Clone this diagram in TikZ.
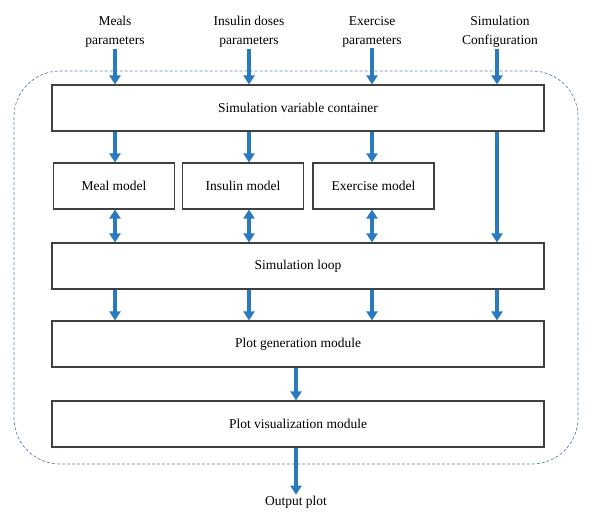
\documentclass[tikz,border=0pt]{standalone}
\usepackage{fontspec}
\setmainfont{Liberation Serif}
\usetikzlibrary{arrows.meta}
\definecolor{flowblue}{RGB}{42,122,192}
\definecolor{dashblue}{RGB}{96,130,170}
\tikzset{
    flow/.style={draw=flowblue, line width=3.6pt, -{Triangle[width=11pt,length=9pt]}},
    bothflow/.style={draw=flowblue, line width=3.6pt, {Triangle[width=11pt,length=9pt]}-{Triangle[width=11pt,length=9pt]}},
    block/.style={draw=black!75, line width=1.1pt, fill=white, minimum height=46pt, inner sep=0pt},
    wide/.style={block, minimum width=492pt},
    model/.style={block, minimum width=121pt},
    label/.style={align=center, font=\fontsize{13.5}{18.5}\selectfont, inner sep=1pt}
}
\begin{document}
\begin{tikzpicture}[x=1pt, y=-1pt, font=\fontsize{13.5}{16}\selectfont]
    \useasboundingbox (0,0) rectangle (596,519);

    % outer frame
    \draw[dashblue, line width=0.7pt, dash pattern=on 3pt off 2pt, rounded corners=46pt] (14,71) rectangle (578,464);

    % columns
    \coordinate (c1) at (115,0);
    \coordinate (c2) at (249,0);
    \coordinate (c3) at (372,0);
    \coordinate (c4) at (497,0);
    \coordinate (c5) at (296,0);

    % inputs
    \node[label] (meals) at (115,32) {Meals\\parameters};
    \node[label] (insulin) at (249,32) {Insulin doses\\parameters};
    \node[label] (exercise) at (372,32) {Exercise\\parameters};
    \node[label] (config) at (500,32) {Simulation\\Configuration};

    % blocks
    \node[wide] (cont) at (298,108) {Simulation variable container};
    \node[model] (mealm) at (114,186) {Meal model};
    \node[model] (insm) at (243,186) {Insulin model};
    \node[model] (exm) at (373.5,186) {Exercise model};
    \node[wide] (loop) at (298,266) {Simulation loop};
    \node[wide] (gen) at (298,344) {Plot generation module};
    \node[wide] (vis) at (298,424) {Plot visualization module};
    \node[label] (out) at (296,502) {Output plot};

    \draw[flow] (meals.south -| c1) -- (cont.north -| c1);
    \draw[flow] (insulin.south -| c2) -- (cont.north -| c2);
    \draw[flow] (exercise.south -| c3) -- (cont.north -| c3);
    \draw[flow] (config.south -| c4) -- (cont.north -| c4);

    \draw[flow] (cont.south -| c1) -- (mealm.north -| c1);
    \draw[flow] (cont.south -| c2) -- (insm.north -| c2);
    \draw[flow] (cont.south -| c3) -- (exm.north -| c3);
    \draw[flow] (cont.south -| c4) -- (loop.north -| c4);

    \draw[bothflow] (mealm.south -| c1) -- (loop.north -| c1);
    \draw[bothflow] (insm.south -| c2) -- (loop.north -| c2);
    \draw[bothflow] (exm.south -| c3) -- (loop.north -| c3);

    \foreach \c in {c1,c2,c3,c4}
        \draw[flow] (loop.south -| \c) -- (gen.north -| \c);

    \draw[flow] (gen.south -| c5) -- (vis.north -| c5);
    \draw[flow] (vis.south -| c5) -- (out.north);
\end{tikzpicture}
\end{document}
